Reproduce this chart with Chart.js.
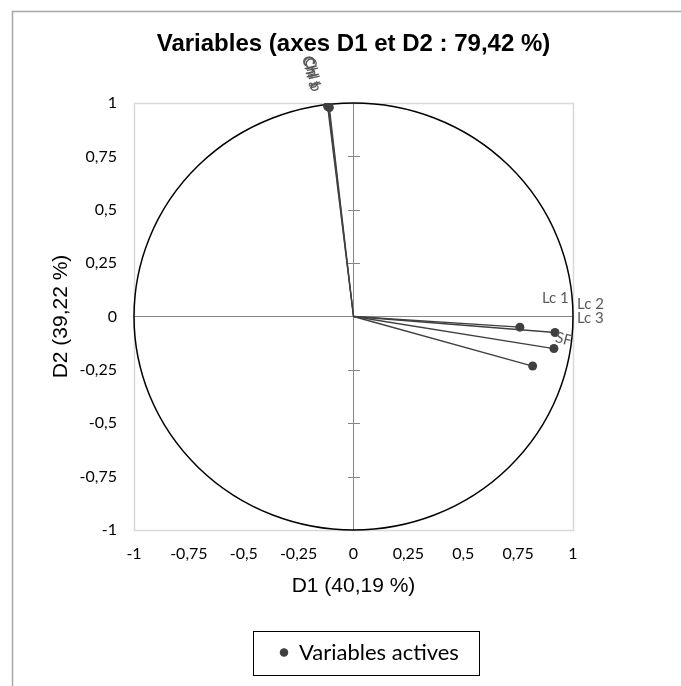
<!DOCTYPE html>
<html><head><meta charset="utf-8">
<script src="https://cdn.jsdelivr.net/npm/chart.js@4/dist/chart.umd.min.js"></script>
<style>html,body{margin:0;padding:0;background:#fff}canvas{display:block}</style>
</head><body>
<canvas id="c" width="681" height="686"></canvas>
<script>
// ---- data ----
const variableNames = ['Chl a', 'Chl b', 'Chl t', 'Lc 1', 'Lc 2', 'Lc 3', 'SF'];
const d1Values = [-0.118, -0.114, -0.110, 0.758, 0.918, 0.913, 0.816];
const d2Values = [0.985, 0.982, 0.979, -0.050, -0.075, -0.150, -0.232];
const axisTicks = [-1, -0.75, -0.5, -0.25, 0, 0.25, 0.5, 0.75, 1];
const tickLabels = ['-1', '-0,75', '-0,5', '-0,25', '0', '0,25', '0,5', '0,75', '1'];
const seriesName = 'Variables actives';
const chartTitle = 'Variables (axes D1 et D2 : 79,42 %)';
const xTitle = 'D1 (40,19 %)';
const yTitle = 'D2 (39,22 %)';

// ---- label styling (offsets in px from the point, rotation in degrees) ----
const labelStyle = [
  {dx: -21, dy: -50, rot: 76},
  {dx: -19, dy: -49, rot: 78},
  {dx: -22, dy: -51, rot: 74},
  {dx: 22, dy: -29, rot: 0},
  {dx: 22, dy: -28, rot: 0},
  {dx: 23, dy: -30, rot: 0},
  {dx: 23, dy: -29, rot: 14}
];

const INK = '#404040';
const CAL = 'Lato, "Open Sans", sans-serif';
const ARI = '"Liberation Sans", Arial, sans-serif';

const decor = {
  id: 'decor',
  beforeDraw(chart) {
    const ctx = chart.ctx;
    ctx.save();
    ctx.strokeStyle = '#a6a6a6';
    ctx.lineWidth = 1.5;
    ctx.beginPath();
    ctx.moveTo(12.5, 686);
    ctx.lineTo(12.5, 11.5);
    ctx.lineTo(681, 11.5);
    ctx.stroke();
    const a = chart.chartArea;
    ctx.strokeStyle = '#d9d9d9';
    ctx.lineWidth = 1.5;
    ctx.strokeRect(Math.round(a.left) + 0.5, Math.round(a.top) + 0.5, Math.round(a.right - a.left), Math.round(a.bottom - a.top));
    ctx.restore();
  },
  beforeDatasetsDraw(chart) {
    const ctx = chart.ctx, xs = chart.scales.x, ys = chart.scales.y;
    const cx = xs.getPixelForValue(0), cy = ys.getPixelForValue(0);
    ctx.save();
    ctx.strokeStyle = '#868686';
    ctx.lineWidth = 1;
    axisTicks.forEach(v => {
      if (v === 0 || Math.abs(v) === 1) return;
      const py = Math.round(ys.getPixelForValue(v)) + 0.5;
      ctx.beginPath();
      ctx.moveTo(Math.round(cx) - 6, py);
      ctx.lineTo(Math.round(cx) + 6, py);
      ctx.stroke();
    });
    const rx = xs.getPixelForValue(1) - cx;
    const ry = cy - ys.getPixelForValue(1);
    ctx.strokeStyle = '#000';
    ctx.lineWidth = 1.5;
    ctx.beginPath();
    ctx.ellipse(cx, cy, rx, ry, 0, 0, Math.PI * 2);
    ctx.stroke();
    ctx.strokeStyle = INK;
    ctx.lineWidth = 1.3;
    chart.data.datasets[0].data.forEach(p => {
      ctx.beginPath();
      ctx.moveTo(cx, cy);
      ctx.lineTo(xs.getPixelForValue(p.x), ys.getPixelForValue(p.y));
      ctx.stroke();
    });
    ctx.restore();
  },
  afterDatasetsDraw(chart) {
    const ctx = chart.ctx, xs = chart.scales.x, ys = chart.scales.y;
    ctx.save();
    ctx.fillStyle = '#595959';
    ctx.font = '15px ' + CAL;
    ctx.textAlign = 'left';
    ctx.textBaseline = 'middle';
    chart.data.datasets[0].data.forEach((p, i) => {
      const s = labelStyle[i];
      const px = xs.getPixelForValue(p.x) + s.dx;
      const py = ys.getPixelForValue(p.y) + s.dy;
      ctx.save();
      ctx.translate(px, py);
      ctx.rotate(s.rot * Math.PI / 180);
      ctx.fillText(variableNames[i], 0, 0);
      ctx.restore();
    });
    ctx.restore();
  },
  afterUpdate(chart) {
    const lg = chart.legend;
    if (!lg || !lg.legendHitBoxes || !lg.legendHitBoxes.length) return;
    const hb = lg.legendHitBoxes[0];
    const dx = 280 - hb.left;
    lg.left += dx; lg.right += dx;
    lg.legendHitBoxes.forEach(h => { h.left += dx; });
  },
  afterDraw(chart) {
    const lg = chart.legend;
    if (!lg || !lg.legendHitBoxes || !lg.legendHitBoxes.length) return;
    const hb = lg.legendHitBoxes[0];
    const ctx = chart.ctx;
    const cyRow = hb.top + hb.height / 2;
    ctx.save();
    ctx.strokeStyle = '#000';
    ctx.lineWidth = 1;
    const l = Math.round(hb.left - 27) + 0.5, r = Math.round(hb.left + hb.width + 20) + 0.5;
    const t = Math.round(cyRow - 22) + 0.5, b = Math.round(cyRow + 22) + 0.5;
    ctx.strokeRect(l, t, r - l, b - t);
    ctx.restore();
  }
};

const points = d1Values.map((v, i) => ({x: v, y: d2Values[i]}));

new Chart(document.getElementById('c'), {
  type: 'scatter',
  data: {
    datasets: [{
      label: seriesName,
      data: points,
      pointRadius: 4.5,
      pointHoverRadius: 4.5,
      pointStyle: 'circle',
      backgroundColor: INK,
      borderColor: INK,
      borderWidth: 0
    }]
  },
  options: {
    responsive: false,
    animation: false,
    devicePixelRatio: 1,
    events: [],
    layout: {padding: {top: 0, left: 0, right: 108, bottom: 12.5}},
    plugins: {
      tooltip: {enabled: false},
      title: {
        display: true,
        text: chartTitle,
        fullSize: false,
        color: '#000',
        font: {family: ARI, size: 24, weight: 'bold', lineHeight: 1.2},
        padding: {top: 30.1, bottom: 44.1}
      },
      legend: {
        position: 'bottom',
        fullSize: false,
        labels: {
          usePointStyle: true,
          pointStyle: 'circle',
          boxWidth: 8,
          boxHeight: 6,
          padding: 10,
          color: '#000',
          font: {family: CAL, size: 22}
        }
      }
    },
    scales: {
      x: {
        type: 'linear',
        min: -1, max: 1,
        afterBuildTicks: s => { s.ticks = axisTicks.map(v => ({value: v})); },
        afterFit: s => { s.height = 101.5; },
        border: {display: false},
        grid: {
          drawTicks: false,
          color: c => (c.tick && c.tick.value === 0) ? '#868686' : 'rgba(0,0,0,0)',
          lineWidth: 1
        },
        ticks: {
          padding: 14,
          color: '#000',
          maxRotation: 0,
          font: {family: CAL, size: 16},
          callback: (v, i) => tickLabels[i]
        },
        title: {
          display: true, text: xTitle, color: '#000',
          font: {family: ARI, size: 21, lineHeight: 1.2},
          padding: {top: 0, bottom: 32.9}
        }
      },
      y: {
        type: 'linear',
        min: -1, max: 1,
        afterBuildTicks: s => { s.ticks = axisTicks.map(v => ({value: v})); },
        afterFit: s => { s.width = 134; },
        border: {display: false},
        grid: {
          drawTicks: false,
          color: c => (c.tick && c.tick.value === 0) ? '#868686' : 'rgba(0,0,0,0)',
          lineWidth: 1
        },
        ticks: {
          padding: 17,
          color: '#000',
          font: {family: CAL, size: 16},
          callback: (v, i) => tickLabels[i]
        },
        title: {
          display: true, text: yTitle, color: '#000',
          font: {family: ARI, size: 21, lineHeight: 1.2},
          padding: {top: 48.4, bottom: 0}
        }
      }
    }
  },
  plugins: [decor]
});
</script>
</body></html>
